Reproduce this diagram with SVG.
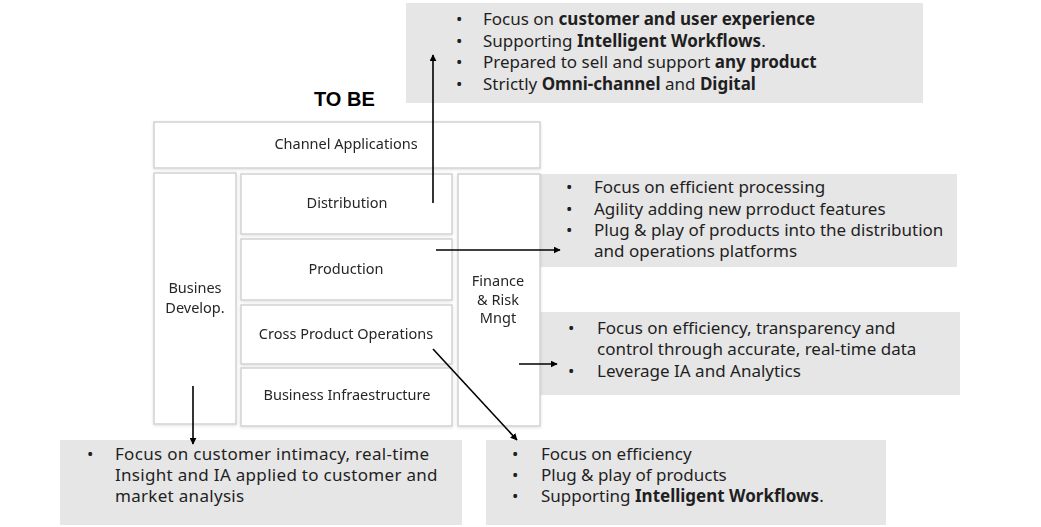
<svg xmlns="http://www.w3.org/2000/svg" width="1041" height="527" viewBox="0 0 1041 527">
<style>
.note{fill:#e6e6e6}
.box{fill:#fff;stroke:#d2d2d2;stroke-width:1.5}
.t{font-family:"Noto Sans","Open Sans",sans-serif;font-size:17px;fill:#1f1f1f}
.n{font-family:"Noto Sans","Open Sans",sans-serif;font-size:14.5px;fill:#262626;text-anchor:middle}
.b{font-weight:bold}
.w{letter-spacing:0.3px}
.c{stroke:#000;stroke-width:1.6;fill:none;marker-end:url(#ah)}
</style>
<defs>
<marker id="ah" viewBox="0 0 10 10" refX="9" refY="5" markerWidth="7" markerHeight="7" markerUnits="userSpaceOnUse" orient="auto">
<path d="M0,0 L10,5 L0,10 z" fill="#000"/>
</marker>
<filter id="sh" x="-10%" y="-10%" width="120%" height="120%">
<feDropShadow dx="0" dy="1" stdDeviation="1.5" flood-color="#000" flood-opacity="0.12"/>
</filter>
</defs>
<rect width="1041" height="527" fill="#fff"/>

<g id="note-top">
<rect class="note" x="406" y="3" width="517" height="100"/>
<text class="t" x="456" y="25">•</text><text class="t" x="483" y="25">Focus on <tspan class="b">customer and user experience</tspan></text>
<text class="t" x="456" y="47">•</text><text class="t" x="483" y="47">Supporting <tspan class="b">Intelligent Workflows</tspan>.</text>
<text class="t" x="456" y="68">•</text><text class="t" x="483" y="68">Prepared to sell and support <tspan class="b">any product</tspan></text>
<text class="t" x="456" y="90">•</text><text class="t" x="483" y="90">Strictly <tspan class="b">Omni-channel</tspan> and <tspan class="b">Digital</tspan></text>
</g>

<g id="title">
<text x="314" y="106" style="font-family:'Liberation Sans',Arial,sans-serif;font-size:20px;font-weight:bold;fill:#000">TO BE</text>
</g>

<g id="note-production">
<rect class="note" x="540" y="174" width="417" height="93"/>
<text class="t" x="566" y="193">•</text><text class="t" x="594" y="193">Focus on efficient processing</text>
<text class="t" x="566" y="215">•</text><text class="t" x="594" y="215">Agility adding new prroduct features</text>
<text class="t" x="566" y="236">•</text><text class="t" x="594" y="236">Plug &amp; play of products into the distribution</text>
<text class="t" x="594" y="257">and operations platforms</text>
</g>

<g id="note-finance">
<rect class="note" x="540" y="312" width="420" height="83"/>
<text class="t" x="568" y="334">•</text><text class="t" x="597" y="334">Focus on efficiency, transparency and</text>
<text class="t" x="597" y="355">control through accurate, real-time data</text>
<text class="t" x="568" y="377">•</text><text class="t" x="597" y="377">Leverage IA and Analytics</text>
</g>

<g id="note-business">
<rect class="note" x="60" y="440" width="402" height="85"/>
<text class="t" x="87" y="460">•</text><text class="t w" x="115" y="460">Focus on customer intimacy, real-time</text>
<text class="t w" x="115" y="481">Insight and IA applied to customer and</text>
<text class="t w" x="115" y="502">market analysis</text>
</g>

<g id="note-operations">
<rect class="note" x="486" y="440" width="400" height="85"/>
<text class="t" x="512" y="460">•</text><text class="t" x="541" y="460">Focus on efficiency</text>
<text class="t" x="512" y="481">•</text><text class="t" x="541" y="481">Plug &amp; play of products</text>
<text class="t" x="512" y="502">•</text><text class="t" x="541" y="502">Supporting <tspan class="b">Intelligent Workflows</tspan>.</text>
</g>

<g id="channel-applications" filter="url(#sh)">
<rect class="box" x="154" y="122" width="386" height="46"/>
<text class="n" x="346" y="149">Channel Applications</text>
</g>

<g id="business-develop" filter="url(#sh)">
<rect class="box" x="154" y="173" width="82" height="251"/>
<text class="n" x="195" y="293">Busines</text>
<text class="n" x="195" y="313">Develop.</text>
</g>

<g id="distribution" filter="url(#sh)">
<rect class="box" x="241" y="174" width="211" height="60"/>
<text class="n" x="347" y="208">Distribution</text>
</g>

<g id="production" filter="url(#sh)">
<rect class="box" x="241" y="239" width="211" height="61"/>
<text class="n" x="346" y="274">Production</text>
</g>

<g id="cross-product-operations" filter="url(#sh)">
<rect class="box" x="241" y="305" width="211" height="59"/>
<text class="n" x="346" y="339">Cross Product Operations</text>
</g>

<g id="business-infraestructure" filter="url(#sh)">
<rect class="box" x="241" y="368" width="211" height="58"/>
<text class="n" x="347" y="400">Business Infraestructure</text>
</g>

<g id="finance-risk" filter="url(#sh)">
<rect class="box" x="458" y="174" width="82" height="252"/>
<text class="n" x="498" y="286">Finance</text>
<text class="n" x="498" y="305">&amp; Risk</text>
<text class="n" x="498" y="323">Mngt</text>
</g>

<g id="connectors">
<line class="c" x1="433" y1="203" x2="433" y2="55"/>
<line class="c" x1="436" y1="250" x2="560" y2="250"/>
<line class="c" x1="519" y1="364" x2="557" y2="364"/>
<line class="c" x1="433" y1="349" x2="517" y2="440"/>
<line class="c" x1="193" y1="386" x2="193" y2="444"/>
</g>
</svg>
